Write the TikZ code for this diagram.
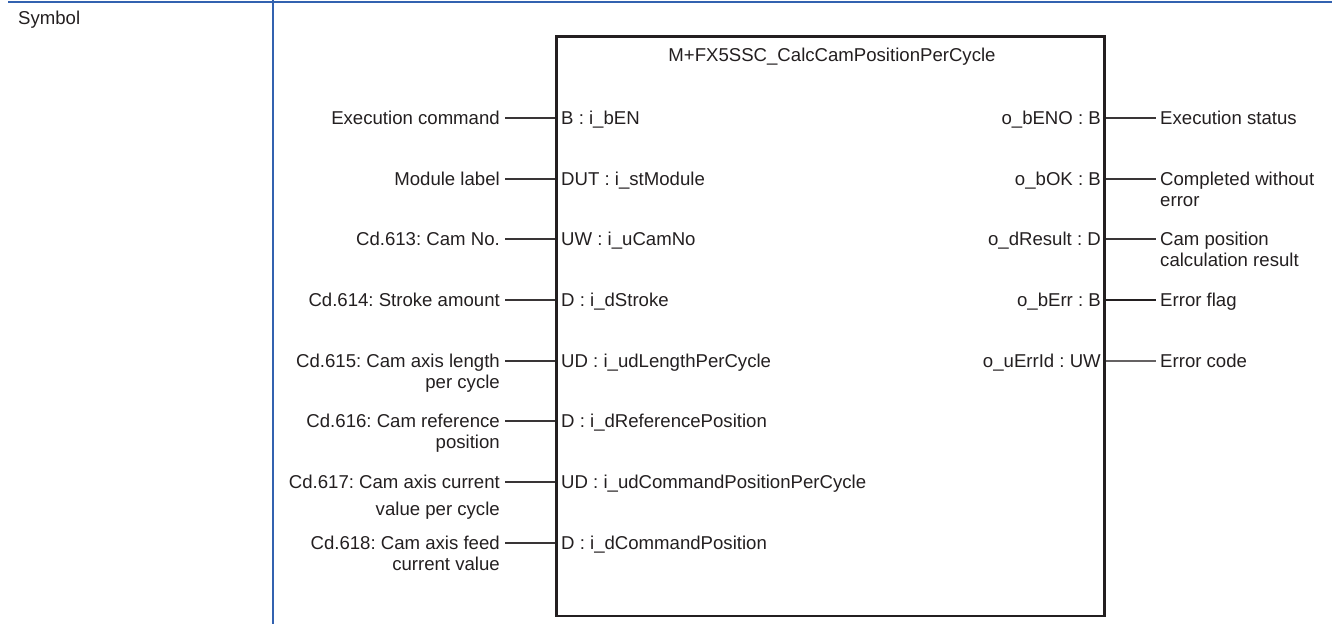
\documentclass[tikz,border=0pt]{standalone}
\usepackage{fontspec}
\setmainfont{Liberation Sans}
\frenchspacing
\definecolor{hdrblue}{RGB}{50,98,176}
\definecolor{ink}{RGB}{35,31,32}
\begin{document}
\begin{tikzpicture}[x=1pt,y=-1pt,
  txt/.style={font=\fontsize{18.6}{21}\selectfont\frenchspacing, inner sep=0pt, text=ink},
  lbl/.style={txt, align=right, anchor=north east},
  rlbl/.style={txt, align=left, anchor=north west},
  wire/.style={line width=1.8pt, draw=ink!90},
  fbox/.style={draw=ink, line width=2.6pt, inner sep=0pt}]
\useasboundingbox (0,0) rectangle (1332,626);
% frame lines
\draw[hdrblue, line width=2.4pt] (8,2) -- (1332,2);
\draw[hdrblue, line width=2.4pt] (273,0) -- (273,624);
\node[txt, anchor=base west] (sym) at (18,25) {Symbol};
% function block
\node[fbox, minimum width=548pt, minimum height=579pt] (box) at (830.7,326.3) {};
\node[txt, anchor=base] (title) at (832,62) {M+FX5SSC\_CalcCamPositionPerCycle};
% inputs
\foreach \i/\pin/\desc in {
  1/{B : i\_bEN}/{\strut Execution command},
  2/{DUT : i\_stModule}/{\strut Module label},
  3/{UW : i\_uCamNo}/{\strut Cd.613: Cam No.},
  4/{D : i\_dStroke}/{\strut Cd.614: Stroke amount},
  5/{UD : i\_udLengthPerCycle}/{\strut Cd.615: Cam axis length\\\strut per cycle},
  6/{D : i\_dReferencePosition}/{\strut Cd.616: Cam reference\\\strut position},
  7/{UD : i\_udCommandPositionPerCycle}/{\strut Cd.617: Cam axis current\\[6pt]\strut value per cycle},
  8/{D : i\_dCommandPosition}/{\strut Cd.618: Cam axis feed\\\strut current value}}{
  \pgfmathsetmacro{\r}{round(118+60.7*(\i-1))}
  \node[txt, anchor=base west] (pin\i) at (561,\r+6.6) {\pin};
  \node[lbl] (in\i) at (500,\r-8.1) {\desc};
  \coordinate (ia\i) at (505,\r);
  \draw[wire] (ia\i) -- (ia\i -| box.west);
}
% outputs
\foreach \i/\pin/\desc/\w/\c in {
  1/{o\_bENO : B}/{\strut Execution status}/1.8/90,
  2/{o\_bOK : B}/{\strut Completed without\\\strut error}/1.8/90,
  3/{o\_dResult : D}/{\strut Cam position\\\strut calculation result}/1.8/90,
  4/{o\_bErr : B}/{\strut Error flag}/2.2/100,
  5/{o\_uErrId : UW}/{\strut Error code}/1.8/70}{
  \pgfmathsetmacro{\r}{round(118+60.7*(\i-1))}
  \node[txt, anchor=base east] (opin\i) at (1101,\r+6.6) {\pin};
  \node[rlbl] (out\i) at (1160,\r-8.1) {\desc};
  \coordinate (oa\i) at (1156,\r);
  \draw[wire, line width=\w pt, draw=ink!\c] (oa\i -| box.east) -- (oa\i);
}
\end{tikzpicture}
\end{document}
